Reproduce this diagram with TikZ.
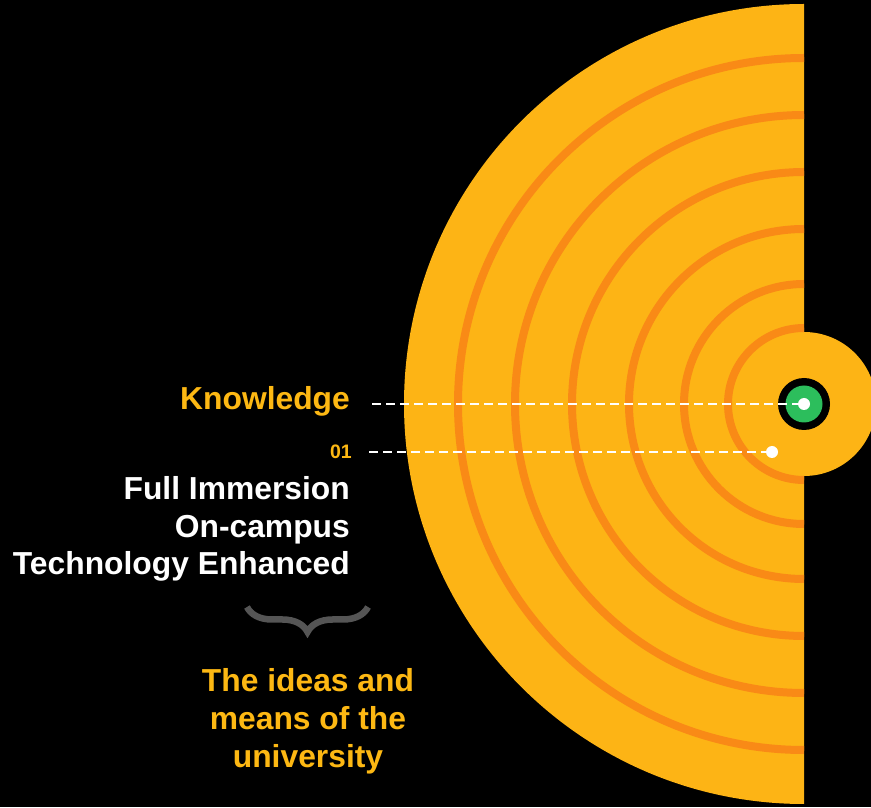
\documentclass[tikz,border=0pt]{standalone}
\usepackage{fontspec}
\setmainfont{Liberation Sans}
\usetikzlibrary{decorations.pathreplacing, calc}
\definecolor{discorange}{RGB}{253,180,21}
\definecolor{ringorange}{RGB}{249,138,22}
\definecolor{labelorange}{RGB}{253,184,19}
\definecolor{coregreen}{RGB}{44,190,92}
\definecolor{bracegray}{RGB}{85,85,85}

\begin{document}
\begin{tikzpicture}[
    x=1pt, y=1pt,
    ring/.style={draw=ringorange, line width=8pt},
    leader/.style={draw=white, line width=1.4pt, dash pattern=on 9pt off 5pt},
    bigtext/.style={font=\fontsize{31.8}{37.8}\selectfont\bfseries, inner sep=0pt},
    marker/.style={circle, fill=white, minimum size=12pt, inner sep=0pt}
]
    % Canvas
    \useasboundingbox (0,0) rectangle (871,807);
    \fill[black] (0,0) rectangle (871,807);
    \clip (0,0) rectangle (871,807);
    \coordinate (centre) at (804,403);

    % Half discs
    \fill[discorange] (centre) ++(0,400) arc[start angle=90, end angle=270, radius=400pt] -- cycle;
    \fill[discorange] (centre) ++(0,-72) arc[start angle=-90, end angle=90, radius=72pt] -- cycle;

    % Rings
    \foreach \r in {346,289,232,175,120,76}
        \draw[ring] (centre) ++(0,\r) arc[start angle=90, end angle=270, radius=\r pt];

    % Core
    \node[circle, fill=black, minimum size=52pt, inner sep=0pt] (core) at (centre) {};
    \node[circle, fill=coregreen, minimum size=37pt, inner sep=0pt] (green) at (centre) {};
    \node[marker] (coredot) at (centre) {};
    \node[marker] (onedot) at (772,355) {};

    % Labels
    \node[bigtext, text=labelorange, anchor=base east] (knowledge) at (350,397) {Knowledge};
    \node[font=\fontsize{19.5}{22}\selectfont\bfseries, text=labelorange, anchor=base east, inner sep=0pt] (num) at (352,348) {01};
    \node[bigtext, text=white, align=right, anchor=base east] (modes) at (350,232) {Full Immersion\\On-campus\\Technology Enhanced};
    \node[bigtext, text=labelorange, align=center, anchor=base] (ideas) at (308,40) {The ideas and\\means of the\\university};

    % Leaders
    \coordinate (kstart) at (372,403);
    \coordinate (nstart) at (369,355);
    \draw[leader] (kstart) -- (coredot);
    \draw[leader] (nstart) -- (onedot);

    % Brace
    \coordinate (braceR) at (368,200);
    \coordinate (braceL) at (247,200);
    \draw[bracegray, line width=6.5pt, decorate, decoration={brace, amplitude=25pt}] (braceR) -- (braceL);
\end{tikzpicture}
\end{document}
